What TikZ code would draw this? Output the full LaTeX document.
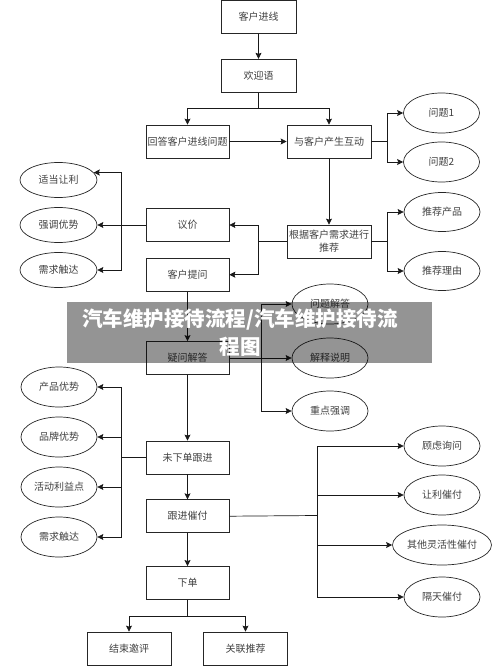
\documentclass[tikz,border=0pt]{standalone}
\usepackage{fontspec}
\setmainfont{Noto Sans CJK SC}
\usepackage{tikz}
\usetikzlibrary{positioning,shapes.geometric,arrows.meta}

\begin{document}
\begin{tikzpicture}[
  x=1pt, y=-1pt,
  node distance=25pt,
  line width=.7pt,
  font=\fontsize{10}{13}\selectfont,
  stepbox/.style={rectangle, draw=black!85, minimum width=83pt, minimum height=33pt, inner sep=1pt, align=center, text=black!75},
  oval/.style={ellipse, draw=black!85, minimum width=76pt, minimum height=40pt, inner sep=0pt, text=black!75},
  arr/.style={-{Stealth[length=6pt,width=6pt,inset=1pt]}, black!90},
  wire/.style={black!90}
]
\useasboundingbox (0,0) rectangle (500,666);

% main column
\node (jinxian) [stepbox, minimum width=75pt] at (258.5,17) {客户进线};
\node (huanying) [stepbox, minimum width=75pt, below=of jinxian] {欢迎语};
\node (huida) [stepbox] at (187.5,141.5) {回答客户进线问题};
\node (hudong) [stepbox, minimum width=84pt] at (329,141.5) {与客户产生互动};
\node (tuijian) [stepbox, minimum width=84pt] at (329,241.5) {根据客户需求进行\\推荐};
\node (yijia) [stepbox] at (187.5,225) {议价};
\node (tiwen) [stepbox, below=16pt of yijia] {客户提问};
\node (yiwen) [stepbox] at (187.5,358) {疑问解答};
\node (weixiadan) [stepbox] at (187.5,457.5) {未下单跟进};
\node (cuifu) [stepbox, below=of weixiadan] {跟进催付};
\node (xiadan) [stepbox, below=33pt of cuifu] {下单};
\node (jieshu) [stepbox, minimum width=84pt] at (129,648.5) {结束邀评};
\node (guanlian) [stepbox, minimum width=84pt] at (245.5,648.5) {关联推荐};

% ellipses on the right
\node (wenti1) [oval] at (441.5,113) {问题1};
\node (wenti2) [oval] at (441.5,162) {问题2};
\node (tjcp) [oval, minimum height=39pt] at (442,212) {推荐产品};
\node (tjly) [oval, minimum height=39pt] at (442,271) {推荐理由};
\node (wtjd) [oval] at (330,304) {问题解答};
\node (jssm) [oval] at (330,358) {解释说明};
\node (zdqd) [oval] at (330,411) {重点强调};
\node (glxw) [oval] at (442,446) {顾虑询问};
\node (rlcf) [oval] at (442,495) {让利催付};
\node (qtcf) [oval] at (442,545) {其他灵活性催付};
\node (gtcf) [oval] at (442,597) {隔天催付};

% ellipses on the left
\node (shidang) [oval, minimum width=77pt, minimum height=35pt] at (58.5,180) {适当让利};
\node (qiangdiao) [oval, minimum width=77pt, minimum height=35pt] at (58.5,225) {强调优势};
\node (xuqiu) [oval, minimum width=77pt, minimum height=35pt] at (58.5,270) {需求触达};
\node (cpys) [oval] at (59,387) {产品优势};
\node (ppys) [oval] at (59,437) {品牌优势};
\node (hdly) [oval] at (59,487) {活动利益点};
\node (xuqiu2) [oval] at (59,537) {需求触达};

% branch points
\coordinate (sHuanying) at (258.5,108);
\coordinate (sHudong) at (387,141.5);
\coordinate (sTuijian) at (258,241.5);
\coordinate (sYijia) at (121,225);
\coordinate (sYiwen) at (261,358);
\coordinate (sWeixiadan) at (121,457.5);
\coordinate (sCuifu) at (317,515.5);
\coordinate (sXiadan) at (187.5,616);

\draw[arr] (jinxian) -- (huanying);
\draw[arr] (huanying.south) -- (sHuanying) -| (huida.north);
\draw[arr] (sHuanying) -| (hudong.north);
\draw[arr] (huida) -- (hudong);
\draw[arr] (hudong) -- (tuijian);
\draw[wire] (hudong.east) -- (sHudong);
\draw[arr] (sHudong) |- (wenti1.west);
\draw[arr] (sHudong) |- (wenti2.west);
\draw[wire] (tuijian.east) -- ++(16,0) coordinate (sTj);
\draw[arr] (sTj) |- (tjcp.west);
\draw[arr] (sTj) |- (tjly.west);
\draw[wire] (tuijian.west) -- (sTuijian);
\draw[arr] (sTuijian) |- (yijia.east);
\draw[arr] (sTuijian) |- (tiwen.east);
\draw[wire] (yijia.west) -- (sYijia);
\draw[arr] (sYijia) |- (shidang.12);
\draw[arr] (sYijia) -- (qiangdiao.east);
\draw[arr] (sYijia) |- (xuqiu.east);
\draw[arr] (tiwen) -- (yiwen);
\draw[arr] (yiwen) -- (jssm);
\draw[arr] (sYiwen) |- (wtjd.west);
\draw[arr] (sYiwen) |- (zdqd.west);
\draw[arr] (yiwen) -- (weixiadan);
\draw[wire] (weixiadan.west) -- (sWeixiadan);
\draw[arr] (sWeixiadan) |- (cpys.east);
\draw[arr] (sWeixiadan) |- (ppys.east);
\draw[arr] (sWeixiadan) |- (hdly.east);
\draw[arr] (sWeixiadan) |- (xuqiu2.east);
\draw[arr] (weixiadan) -- (cuifu);
\draw[wire] (cuifu.east) -- (sCuifu);
\draw[arr] (sCuifu) |- (glxw.west);
\draw[arr] (sCuifu) |- (rlcf.west);
\draw[arr] (sCuifu) |- (qtcf.west);
\draw[arr] (sCuifu) |- (gtcf.west);
\draw[arr] (cuifu) -- (xiadan);
\draw[wire] (xiadan.south) -- (sXiadan);
\draw[arr] (sXiadan) -| (jieshu.north);
\draw[arr] (sXiadan) -| (guanlian.north);

% title banner over the chart
\node (banner) [fill=black, fill opacity=.42, minimum width=365pt, minimum height=61pt, inner sep=0pt] at (249.5,332.5) {};
\node (bannerText) [text=white, align=center, font=\bfseries\fontsize{20.5}{28}\selectfont] at (240,333) {汽车维护接待流程/汽车维护接待流\\程图};

\end{tikzpicture}
\end{document}
